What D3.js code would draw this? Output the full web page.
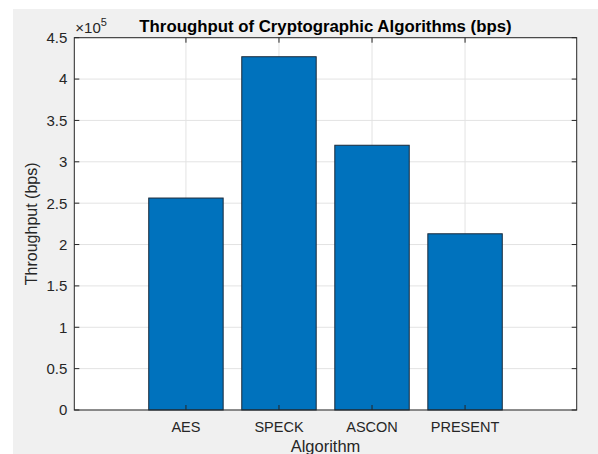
<!DOCTYPE html>
<html>
<head>
<meta charset="utf-8">
<script src="https://cdn.jsdelivr.net/npm/d3@7"></script>
<style>
  body { margin: 0; background: #fff; }
  svg { display: block; font-family: "Liberation Sans", Arial, sans-serif; }
</style>
</head>
<body>
<svg id="chart" width="598" height="454"></svg>
<script>
// chart data
const algorithms = ["AES", "SPECK", "ASCON", "PRESENT"];
const throughput = [256200, 427000, 320000, 213000];
const yTicks = [0, 0.5, 1, 1.5, 2, 2.5, 3, 3.5, 4, 4.5];

const svg = d3.select("#chart");
const axLeft = 74.3, axRight = 576.7, axTop = 37.7, axBottom = 410;
const ink = "#262626";

// figure background (matlab gray)
svg.append("rect").attr("x", 13).attr("y", 9).attr("width", 585).attr("height", 445).attr("fill", "#f0f0f0");

const x = d3.scaleLinear().domain([-0.2, 5.2]).range([axLeft, axRight]);
const y = d3.scaleLinear().domain([0, 4.5e5]).range([axBottom, axTop]);

// axes area
svg.append("rect").attr("x", axLeft).attr("y", axTop)
  .attr("width", axRight - axLeft).attr("height", axBottom - axTop).attr("fill", "#fff");

// grid
const grid = svg.append("g").attr("stroke", "#e3e3e3").attr("stroke-width", 1);
grid.selectAll(".gy").data(yTicks).enter().append("line")
  .attr("x1", axLeft).attr("x2", axRight)
  .attr("y1", d => y(d * 1e5)).attr("y2", d => y(d * 1e5));
grid.selectAll(".gx").data(algorithms).enter().append("line")
  .attr("x1", (d, i) => x(i + 1)).attr("x2", (d, i) => x(i + 1))
  .attr("y1", axTop).attr("y2", axBottom);

// bars
const bw = x(0.8) - x(0);
svg.selectAll(".bar").data(throughput).enter().append("rect")
  .attr("x", (d, i) => x(i + 1) - bw / 2)
  .attr("y", d => y(d))
  .attr("width", bw)
  .attr("height", d => y(0) - y(d))
  .attr("fill", "#0072BD")
  .attr("stroke", "#1a2a3a")
  .attr("stroke-width", 1);

// box and ticks
svg.append("rect").attr("x", axLeft).attr("y", axTop)
  .attr("width", axRight - axLeft).attr("height", axBottom - axTop)
  .attr("fill", "none").attr("stroke", ink).attr("stroke-width", 1);

const ticks = svg.append("g").attr("stroke", ink).attr("stroke-width", 1);
yTicks.forEach(t => {
  const yy = y(t * 1e5);
  ticks.append("line").attr("x1", axLeft).attr("x2", axLeft + 5).attr("y1", yy).attr("y2", yy);
  ticks.append("line").attr("x1", axRight).attr("x2", axRight - 5).attr("y1", yy).attr("y2", yy);
});
algorithms.forEach((a, i) => {
  const xx = x(i + 1);
  ticks.append("line").attr("x1", xx).attr("x2", xx).attr("y1", axBottom).attr("y2", axBottom - 5);
  ticks.append("line").attr("x1", xx).attr("x2", xx).attr("y1", axTop).attr("y2", axTop + 5);
});

// tick labels
svg.append("g").selectAll("text").data(yTicks).enter().append("text")
  .attr("x", axLeft - 7).attr("y", d => y(d * 1e5))
  .attr("dy", "0.36em").attr("text-anchor", "end")
  .attr("font-size", 15).attr("fill", ink)
  .text(d => d);

svg.append("g").selectAll("text").data(algorithms).enter().append("text")
  .attr("x", (d, i) => x(i + 1)).attr("y", 432)
  .attr("text-anchor", "middle")
  .attr("font-size", 14.5).attr("fill", ink)
  .text(d => d);

// exponent
const ex = svg.append("text").attr("x", axLeft + 1).attr("y", 33)
  .attr("font-size", 15).attr("fill", ink);
ex.append("tspan").text("\u00d710");
ex.append("tspan").attr("dy", -7).attr("font-size", 11).text("5");

// labels
svg.append("text").attr("x", (axLeft + axRight) / 2).attr("y", 32)
  .attr("text-anchor", "middle").attr("font-size", 16.8).attr("font-weight", "bold")
  .attr("fill", "#000").text("Throughput of Cryptographic Algorithms (bps)");

svg.append("text").attr("x", (axLeft + axRight) / 2).attr("y", 452)
  .attr("text-anchor", "middle").attr("font-size", 16.5).attr("fill", ink)
  .text("Algorithm");

svg.append("text")
  .attr("transform", `translate(37, ${(axTop + axBottom) / 2}) rotate(-90)`)
  .attr("text-anchor", "middle").attr("font-size", 16).attr("fill", ink)
  .text("Throughput (bps)");
</script>
</body>
</html>
